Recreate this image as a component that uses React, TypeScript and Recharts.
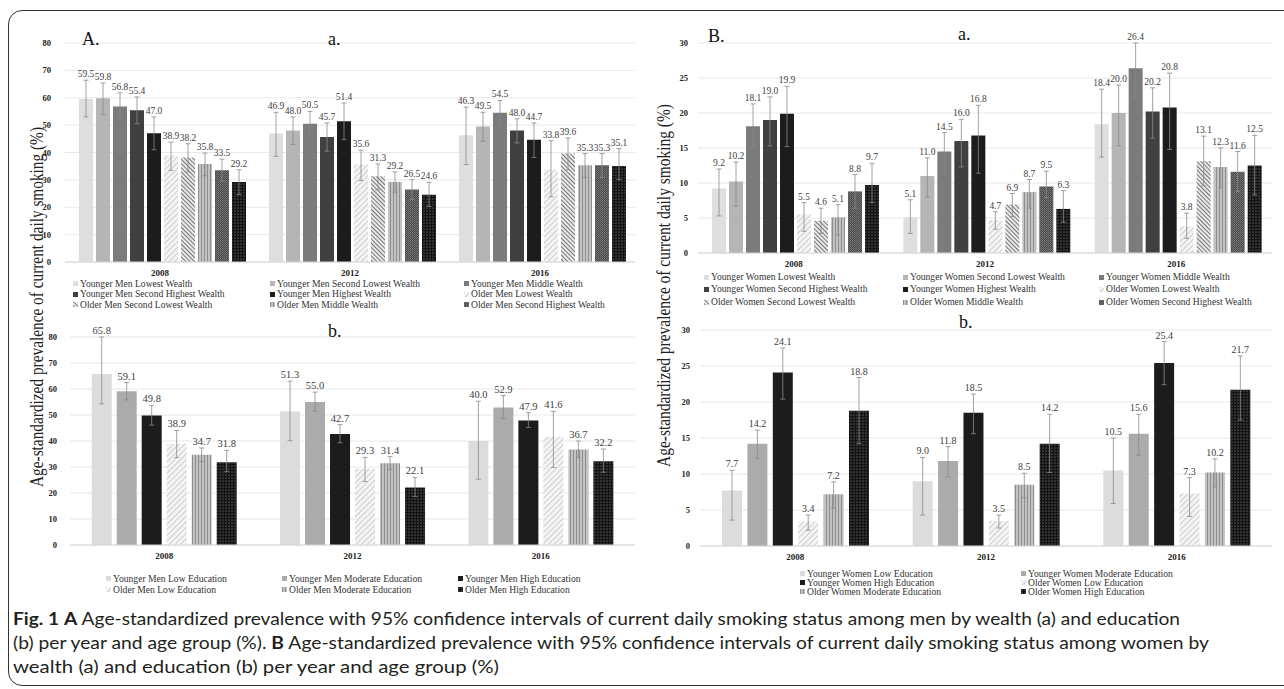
import { BarChart, Bar, XAxis, YAxis, CartesianGrid, ErrorBar, LabelList } from 'recharts'

const years = ['2008', '2012', '2016']

// A a. men by wealth (values per series: 2008, 2012, 2016)
const menWealthNames = [
  'Younger Men Lowest Wealth',
  'Younger Men Second Lowest Wealth',
  'Younger Men Middle Wealth',
  'Younger Men Second Highest Wealth',
  'Younger Men Highest Wealth',
  'Older Men Lowest Wealth',
  'Older Men Second Lowest Wealth',
  'Older Men Middle Wealth',
  'Older Men Second Highest Wealth',
  'Older Men Highest Wealth',
]
const menWealthValues = [
  [59.5, 46.9, 46.3],
  [59.8, 48.0, 49.5],
  [56.8, 50.5, 54.5],
  [55.4, 45.7, 48.0],
  [47.0, 51.4, 44.7],
  [38.9, 35.6, 33.8],
  [38.2, 31.3, 39.6],
  [35.8, 29.2, 35.3],
  [33.5, 26.5, 35.3],
  [29.2, 24.6, 35.1],
]
const menWealthLow = [
  [53.0, 38.6, 35.6],
  [53.8, 42.9, 44.1],
  [52.0, 46.0, 49.6],
  [50.5, 40.5, 43.5],
  [41.0, 44.7, 38.2],
  [33.5, 29.8, 23.8],
  [32.9, 26.4, 33.7],
  [31.5, 25.5, 30.9],
  [29.5, 22.9, 30.9],
  [24.6, 20.3, 30.1],
]
const menWealthHigh = [
  [66.4, 54.7, 56.6],
  [65.4, 53.0, 54.7],
  [61.8, 55.0, 59.0],
  [60.3, 50.8, 52.3],
  [53.0, 58.1, 50.8],
  [43.8, 40.8, 44.3],
  [43.2, 35.8, 45.3],
  [39.8, 32.9, 39.6],
  [37.6, 30.1, 39.6],
  [33.7, 29.1, 41.4],
]

// A b. men by education
const menEduNames = [
  'Younger Men Low Education',
  'Younger Men Moderate Education',
  'Younger Men High Education',
  'Older Men Low Education',
  'Older Men Moderate Education',
  'Older Men High Education',
]
const menEduValues = [
  [65.8, 51.3, 40.0],
  [59.1, 55.0, 52.9],
  [49.8, 42.7, 47.9],
  [38.9, 29.3, 41.6],
  [34.7, 31.4, 36.7],
  [31.8, 22.1, 32.2],
]
const menEduLow = [
  [54.3, 40.1, 25.3],
  [55.8, 51.5, 48.6],
  [46.1, 39.3, 45.2],
  [33.6, 24.4, 29.8],
  [32.1, 29.1, 33.7],
  [28.2, 18.7, 28.0],
]
const menEduHigh = [
  [80.0, 63.0, 55.3],
  [62.5, 58.8, 57.5],
  [53.7, 46.3, 50.9],
  [44.1, 33.7, 51.4],
  [37.3, 34.0, 40.0],
  [36.4, 26.0, 36.9],
]

// B a. women by wealth
const womenWealthNames = [
  'Younger Women Lowest Wealth',
  'Younger Women Second Lowest Wealth',
  'Younger Women Middle Wealth',
  'Younger Women Second Highest Wealth',
  'Younger Women Highest Wealth',
  'Older Women Lowest Wealth',
  'Older Women Second Lowest Wealth',
  'Older Women Middle Wealth',
  'Older Women Second Highest Wealth',
  'Older Women Highest Wealth',
]
const womenWealthValues = [
  [9.2, 5.1, 18.4],
  [10.2, 11.0, 20.0],
  [18.1, 14.5, 26.4],
  [19.0, 16.0, 20.2],
  [19.9, 16.8, 20.8],
  [5.5, 4.7, 3.8],
  [4.6, 6.9, 13.1],
  [5.1, 8.7, 12.3],
  [8.8, 9.5, 11.6],
  [9.7, 6.3, 12.5],
]
const womenWealthLow = [
  [5.3, 2.8, 13.7],
  [6.7, 8.0, 15.3],
  [15.2, 11.3, 22.3],
  [15.3, 12.3, 16.4],
  [15.2, 11.4, 14.8],
  [3.1, 3.4, 2.1],
  [2.8, 5.2, 9.6],
  [2.6, 6.4, 9.3],
  [6.4, 7.9, 8.8],
  [7.2, 4.4, 8.3],
]
const womenWealthHigh = [
  [12.0, 7.6, 23.4],
  [13.0, 13.6, 24.0],
  [21.3, 17.2, 30.0],
  [22.3, 19.1, 23.6],
  [23.8, 21.1, 25.7],
  [7.2, 5.9, 5.7],
  [6.4, 8.5, 16.7],
  [6.9, 10.5, 15.0],
  [11.2, 11.7, 14.5],
  [12.8, 8.9, 16.8],
]

// B b. women by education
const womenEduNames = [
  'Younger Women Low Education',
  'Younger Women Moderate Education',
  'Younger Women High Education',
  'Older Women Low Education',
  'Older Women Moderate Education',
  'Older Women High Education',
]
const womenEduValues = [
  [7.7, 9.0, 10.5],
  [14.2, 11.8, 15.6],
  [24.1, 18.5, 25.4],
  [3.4, 3.5, 7.3],
  [7.2, 8.5, 10.2],
  [18.8, 14.2, 21.7],
]
const womenEduLow = [
  [3.6, 4.3, 5.9],
  [12.2, 9.6, 12.6],
  [20.4, 15.6, 22.4],
  [2.2, 2.5, 4.1],
  [5.2, 6.7, 8.2],
  [14.2, 10.2, 17.5],
]
const womenEduHigh = [
  [10.5, 12.3, 15.0],
  [16.1, 13.8, 18.3],
  [27.5, 21.1, 28.4],
  [4.3, 4.3, 9.5],
  [8.9, 10.1, 12.1],
  [23.4, 18.3, 26.4],
]

const menTicks = [0, 10, 20, 30, 40, 50, 60, 70, 80]
const womenTicks = [0, 5, 10, 15, 20, 25, 30]

const wealthFills = [
  '#dedede', '#b5b5b5', '#7b7b7b', '#404040', '#1c1c1c',
  'url(#pHatchLight)', 'url(#pHatchDark)', 'url(#pStripe)', 'url(#pChecker)', 'url(#pDots)',
]
const eduFills = ['#dcdcdc', '#ababab', '#1c1c1c', 'url(#pHatchLight)', 'url(#pStripe)', 'url(#pDots)']

const serif = '"Liberation Serif", "Times New Roman", serif'

function Patterns() {
  return (
    <svg width={0} height={0} style={{ position: 'absolute' }}>
      <defs>
        <pattern id="pHatchLight" width={4} height={4} patternUnits="userSpaceOnUse" patternTransform="rotate(45)">
          <rect width={4} height={4} fill="#f4f4f4" />
          <line x1={0} y1={0} x2={0} y2={4} stroke="#c4c4c4" strokeWidth={1.6} />
        </pattern>
        <pattern id="pHatchDark" width={3} height={3} patternUnits="userSpaceOnUse" patternTransform="rotate(-45)">
          <rect width={3} height={3} fill="#e8e8e8" />
          <line x1={0} y1={0} x2={0} y2={3} stroke="#5a5a5a" strokeWidth={1.6} />
        </pattern>
        <pattern id="pStripe" width={3} height={3} patternUnits="userSpaceOnUse">
          <rect width={3} height={3} fill="#c2c2c2" />
          <line x1={0.5} y1={0} x2={0.5} y2={3} stroke="#8e8e8e" strokeWidth={1} />
        </pattern>
        <pattern id="pChecker" width={2} height={2} patternUnits="userSpaceOnUse">
          <rect width={2} height={2} fill="#4a4a4a" />
          <rect width={1} height={1} fill="#7a7a7a" />
          <rect x={1} y={1} width={1} height={1} fill="#6a6a6a" />
        </pattern>
        <pattern id="pDots" width={3} height={3} patternUnits="userSpaceOnUse">
          <rect width={3} height={3} fill="#141414" />
          <circle cx={1} cy={1} r={0.55} fill="#9a9a9a" />
        </pattern>
      </defs>
    </svg>
  )
}

function ValueLabel(props: any) {
  const { x, y, width, height, value, index, high, fontSize } = props
  const perUnit = height / value
  const top = y - (high[index] - value) * perUnit
  return (
    <text x={x + width / 2} y={top - 3} textAnchor="middle" fontFamily={serif} fontSize={fontSize} fill="#404040">
      {Number(value).toFixed(1)}
    </text>
  )
}

function Panel(props: any) {
  const { values, low, high, fills, ticks, width, height, marginTop, axisWidth, tickGap, catGap, barGap, labelSize } = props
  const rows = years.map((year, i) => {
    const row: any = { year }
    values.forEach((v: number[], k: number) => {
      row['v' + k] = v[i]
      row['e' + k] = [v[i] - low[k][i], high[k][i] - v[i]]
    })
    return row
  })
  return (
    <BarChart
      width={width}
      height={height}
      data={rows}
      margin={{ top: marginTop, right: 5, bottom: 0, left: 0 }}
      barCategoryGap={catGap}
      barGap={barGap}
    >
      <CartesianGrid vertical={false} stroke="#e8e8e8" />
      <XAxis
        dataKey="year"
        height={18}
        tickLine={false}
        tickSize={0}
        tickMargin={8}
        axisLine={{ stroke: '#d6d6d6' }}
        tick={{ fontFamily: serif, fontSize: 9, fontWeight: 'bold', fill: '#222' }}
      />
      <YAxis
        type="number"
        domain={[0, ticks[ticks.length - 1]]}
        ticks={ticks}
        width={axisWidth}
        tickLine={false}
        axisLine={false}
        tickSize={0}
        tickMargin={tickGap}
        tick={{ fontFamily: serif, fontSize: 8.5, fontWeight: 'bold', fill: '#222' }}
      />
      {values.map((_: number[], k: number) => (
        <Bar key={k} dataKey={'v' + k} fill={fills[k]} isAnimationActive={false}>
          <ErrorBar dataKey={'e' + k} width={2.5} stroke="#8a8a8a" strokeWidth={0.8} />
          <LabelList
            dataKey={'v' + k}
            content={(p: any) => <ValueLabel {...p} high={high[k]} fontSize={labelSize} />}
          />
        </Bar>
      ))}
    </BarChart>
  )
}

function LegendGrid(props: any) {
  const { names, fills, count, left, top, cols, lineHeight } = props
  return (
    <div
      style={{
        position: 'absolute',
        left,
        top,
        display: 'grid',
        gridTemplateColumns: cols.map((c: number) => c + 'px').join(' '),
        fontFamily: serif,
        fontSize: 9.6,
        lineHeight: lineHeight + 'px',
        color: '#333',
      }}
    >
      {names.slice(0, count).map((n: string, k: number) => (
        <div key={n} style={{ display: 'flex', alignItems: 'center', whiteSpace: 'nowrap' }}>
          <svg width={5} height={5} style={{ marginRight: 2, flex: 'none' }}>
            <rect width={5} height={5} fill={fills[k]} />
          </svg>
          {n}
        </div>
      ))}
    </div>
  )
}

const yTitle = 'Age-standardized prevalence of current daily smoking (%)'

export default function App() {
  return (
    <div style={{ position: 'absolute', left: 0, top: 0, width: 1284, height: 689, overflow: 'hidden', background: '#fff' }}>
      <Patterns />
      <div
        style={{
          position: 'absolute', left: 8, top: 10, width: 1320, height: 674,
          border: '1.5px solid #333', borderRadius: 14,
        }}
      />

      <div style={{ position: 'absolute', left: 0, top: 0 }}>
        <Panel values={menWealthValues} low={menWealthLow} high={menWealthHigh} fills={wealthFills} ticks={menTicks}
          width={640} height={280} marginTop={43} axisWidth={65} tickGap={14} catGap={14} barGap={3} labelSize={9.5} />
      </div>
      <LegendGrid names={menWealthNames} fills={wealthFills} count={9} left={73} top={278.5}
        cols={[197, 194, 180]} lineHeight={10.5} />

      <div style={{ position: 'absolute', left: 0, top: 300 }}>
        <Panel values={menEduValues} low={menEduLow} high={menEduHigh} fills={eduFills} ticks={menTicks}
          width={640} height={263} marginTop={37} axisWidth={70} tickGap={13} catGap={21.7} barGap={5} labelSize={10.5} />
      </div>
      <LegendGrid names={menEduNames} fills={eduFills} count={6} left={106} top={572.5}
        cols={[176, 176, 180]} lineHeight={11} />

      <div style={{ position: 'absolute', left: 640, top: 0 }}>
        <Panel values={womenWealthValues} low={womenWealthLow} high={womenWealthHigh} fills={wealthFills} ticks={womenTicks}
          width={637} height={271} marginTop={43} axisWidth={58} tickGap={10} catGap={14} barGap={3} labelSize={9.5} />
      </div>
      <LegendGrid names={womenWealthNames} fills={wealthFills} count={9} left={704} top={270.75}
        cols={[199, 196, 180]} lineHeight={12.5} />

      <div style={{ position: 'absolute', left: 640, top: 300 }}>
        <Panel values={womenEduValues} low={womenEduLow} high={womenEduHigh} fills={eduFills} ticks={womenTicks}
          width={637} height={264} marginTop={30} axisWidth={60} tickGap={10} catGap={22} barGap={5.4} labelSize={10} />
      </div>
      <LegendGrid names={womenEduNames} fills={eduFills} count={6} left={800} top={568.5}
        cols={[221, 220]} lineHeight={9} />

      <svg width={1284} height={689} style={{ position: 'absolute', left: 0, top: 0, pointerEvents: 'none' }}>
        <g fontFamily={serif} fill="#111" fontSize={18}>
          <text x={82} y={45}>A.</text>
          <text x={328} y={45}>a.</text>
          <text x={328} y={337}>b.</text>
          <text x={708} y={42}>B.</text>
          <text x={958} y={40}>a.</text>
          <text x={959} y={328}>b.</text>
          <text transform="translate(43,487) rotate(-90)" fontSize={19} fill="#222" textLength={360} lengthAdjust="spacingAndGlyphs">{yTitle}</text>
          <text transform="translate(670,467) rotate(-90)" fontSize={18.5} fill="#222" textLength={363} lengthAdjust="spacingAndGlyphs">{yTitle}</text>
        </g>
        <g fontFamily='Lato, "Open Sans", sans-serif' fontSize={16.5} fill="#231f20">
          <text x={13} y={625} textLength={1167} lengthAdjust="spacingAndGlyphs">
            <tspan fontWeight="bold">Fig. 1</tspan>
            <tspan>{'  '}</tspan>
            <tspan fontWeight="bold">A</tspan>
            <tspan> Age-standardized prevalence with 95% confidence intervals of current daily smoking status among men by wealth (a) and education</tspan>
          </text>
          <text x={13} y={649} textLength={1196} lengthAdjust="spacingAndGlyphs">
            <tspan>(b) per year and age group (%). </tspan>
            <tspan fontWeight="bold">B</tspan>
            <tspan> Age-standardized prevalence with 95% confidence intervals of current daily smoking status among women by</tspan>
          </text>
          <text x={13} y={673} textLength={486} lengthAdjust="spacingAndGlyphs">
            wealth (a) and education (b) per year and age group (%)
          </text>
        </g>
      </svg>
    </div>
  )
}
